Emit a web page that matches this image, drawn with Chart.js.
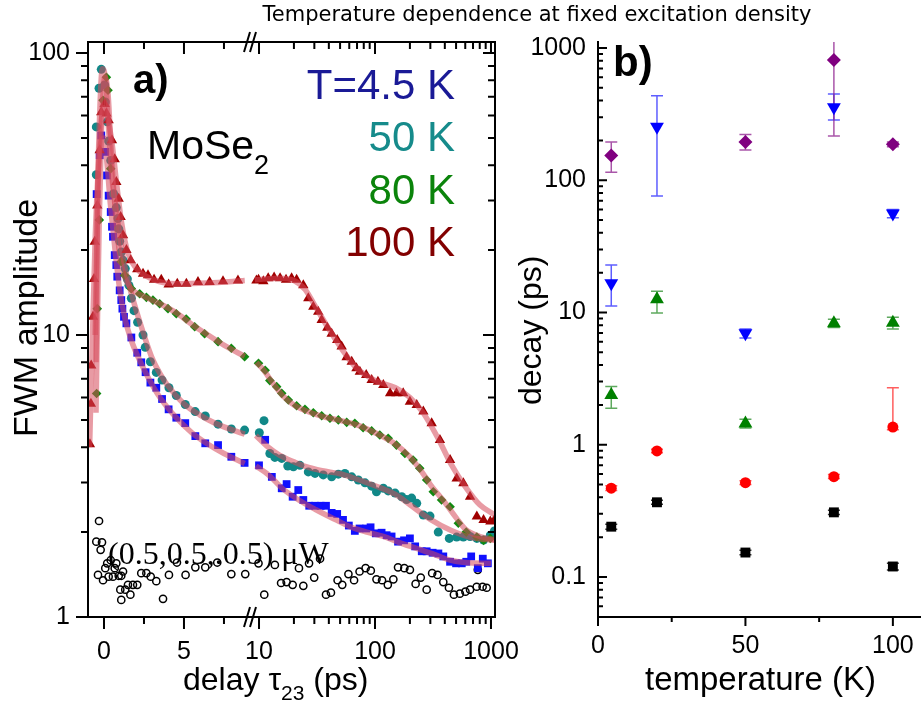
<!DOCTYPE html>
<html>
<head>
<meta charset="utf-8">
<script src="https://cdn.jsdelivr.net/npm/chart.js@4.4.1/dist/chart.umd.min.js"></script>
<style>
  html, body { margin:0; padding:0; background:#fff; }
  #page { position:relative; width:921px; height:706px; overflow:hidden; font-family:"Liberation Sans", Arial, sans-serif; color:#000; }
  .box { position:absolute; top:0; height:706px; }
  .lbl { position:absolute; line-height:1; white-space:nowrap; }
  .rot { transform-origin:0 0; transform:rotate(-90deg); }
</style>
</head>
<body>
<div id="page">
  <div class="box" style="left:0;width:530px"><canvas id="fwmChart"></canvas></div>
  <div class="box" style="left:520px;width:421px"><canvas id="decayChart"></canvas></div>

  <div class="lbl" style="left:537px;top:4px;transform:translateX(-50%);font-family:'DejaVu Sans';font-size:21px">Temperature dependence at fixed excitation density</div>
  <div class="lbl" style="left:133px;top:59px;font-size:40px;font-weight:bold">a)</div>
  <div class="lbl" style="left:147px;top:125px;font-size:41px">MoSe<span style="font-size:27px;position:relative;top:15px">2</span></div>
  <div class="lbl" style="right:466px;top:64px;font-size:42px;color:#1a1a96">T=4.5 K</div>
  <div class="lbl" style="right:466px;top:116px;font-size:42px;color:#168b8b">50 K</div>
  <div class="lbl" style="right:466px;top:169px;font-size:42px;color:#0b840b">80 K</div>
  <div class="lbl" style="right:466px;top:221px;font-size:42px;color:#820000">100 K</div>
  <div class="lbl" style="left:108px;top:537px;font-family:'Liberation Serif';font-size:32px">(0.5,0.5,.0.5) μW</div>
  <div class="lbl" style="left:183px;top:663px;font-size:32px">delay τ<span style="font-size:21px;position:relative;top:10px">23</span> (ps)</div>
  <div class="lbl rot" style="left:8px;top:437px;font-size:34px">FWM amplitude</div>

  <div class="lbl" style="left:613px;top:41px;font-size:42px;font-weight:bold">b)</div>
  <div class="lbl" style="left:645px;top:662px;font-size:33px">temperature (K)</div>
  <div class="lbl rot" style="left:514px;top:405px;font-size:32px">decay (ps)</div>
</div>

<script>
// ---- panel a: FWM amplitude vs delay (linear part up to the break, log part after) ----
const blueLin = [[-0.46,31.6],[-0.27,43.4],[-0.17,51],[0.08,44.6],[0.19,36.8],[0.29,31.2],[0.42,27.3],[0.5,24.2],[0.56,22.3],[0.67,19.2],[0.77,17.7],[0.83,16.1],[0.98,14.4],[1.08,13.3],[1.15,12.4],[1.25,11.6],[1.4,11],[1.71,9.8],[2.08,8.65],[2.33,8.0],[2.6,7.38],[2.9,6.78],[3.27,6.5],[3.63,5.93],[4.04,5.45],[4.52,5.09],[5.08,4.87],[5.71,4.38],[6.33,4.13],[7.13,4.07],[7.96,3.7],[8.79,3.52]];
const blueLog = [[10,3.45],[11.3,4.25],[12.9,3.14],[15.7,2.86],[17.3,2.96],[19.5,2.67],[21.8,2.82],[24.1,2.6],[27.1,2.48],[30.4,2.48],[34,2.48],[37.8,2.48],[42.3,2.34],[47.2,2.32],[53,2.21],[59.5,2.11],[67,2.02],[73.6,2.06],[84,2.06],[91.6,2.08],[101.6,1.98],[114,1.99],[126,1.95],[139,1.93],[158,1.85],[178,1.87],[200,1.9],[222,1.78],[253,1.71],[279,1.71],[314,1.69],[352,1.68],[388,1.64],[444,1.57],[500,1.55],[560,1.55],[612,1.57],[675,1.64],[770,1.49],[850,1.61],[940,1.55]];
const tealLin = [[-0.48,37],[-0.48,54.7],[-0.31,75],[-0.17,87.5],[0.04,77],[0.08,67],[0.2,57],[0.29,48.7],[0.42,41.6],[0.6,31.7],[0.77,28.3],[0.875,25.9],[0.92,23.8],[0.98,21.5],[1.08,19.7],[1.19,18.4],[1.33,17.2],[1.46,15.8],[1.56,15],[1.71,13.5],[1.875,12.2],[2.1,11.1],[2.44,10],[2.58,9.04],[2.9,8.04],[3.27,7.37],[3.63,6.92],[4.06,6.5],[4.52,6.1],[5.08,5.67],[5.7,5.35],[6.33,5.16],[7.13,4.83],[7.96,4.64],[8.79,4.6]];
const tealLog = [[10.06,4.5],[11.04,4.97],[12.4,3.8],[13.7,3.68],[15.7,3.65],[17.7,3.43],[19.8,3.41],[22.5,3.45],[26.6,3.27],[30.4,3.23],[35.8,3.19],[42.3,3.14],[48.3,3.21],[55,3.23],[63,3.14],[71.8,3.06],[82,2.99],[93.6,2.91],[103,2.78],[118,2.86],[130,2.8],[149,2.75],[170,2.67],[187,2.61],[207,2.64],[229,2.53],[261,2.3],[298,2.28],[351,2.0],[437,1.9],[506,1.92],[578,1.92],[660,1.93],[755,1.9],[863,1.875],[987,1.95],[1070,2.02]];
const greenLin = [[-0.46,6.2],[-0.42,12.4],[-0.29,25.6],[-0.06,68],[0.15,82],[0.25,73.8],[0.42,38.9],[1.08,18.2],[1.29,16.3],[1.71,14.6],[2.23,14],[2.65,13.6],[3.06,13.3],[3.48,12.9],[4.0,12.4],[4.52,11.9],[5.14,11.4],[5.67,10.7],[6.29,10.1],[7.13,9.47],[7.96,8.97],[8.79,8.37]];
const greenLog = [[9.9,7.94],[11.3,7.5],[12.4,6.89],[14.2,6.56],[15.7,6.21],[17.9,5.88],[21.1,5.61],[24.9,5.45],[29.4,5.3],[34.7,5.17],[40.9,5.07],[48.3,5.0],[57,4.9],[67,4.86],[79,4.69],[93.6,4.57],[110,4.42],[130,4.3],[153,4.07],[181,3.8],[213,3.6],[243,3.37],[279,3.06],[318,2.78],[375,2.6],[444,2.46],[523,2.15],[612,2.0],[755,1.92],[863,1.87],[987,1.9]];
const redLin = [[-0.88,4.1],[-0.82,5.7],[-0.8,7.8],[-0.69,11.6],[-0.625,15.8],[-0.58,21.4],[-0.42,28.8],[-0.27,45.2],[-0.17,61.7],[0.04,66],[0.15,61],[0.29,57.7],[0.5,49],[0.67,42],[0.77,34.9],[0.92,30.4],[1.04,26.2],[1.19,22.6],[1.4,20],[1.67,18.4],[2.08,17.1],[2.44,16.5],[2.75,16.3],[3.13,15.7],[3.58,15.7],[4.04,15.1],[4.58,15.2],[5.15,15.2],[5.875,15.4],[6.6,15.4],[7.44,15.5],[8.375,15.6]];
const redLog = [[9.5,15.6],[9.9,15.7],[10.9,15.5],[12,15.9],[13.5,16.0],[15.2,15.9],[17.1,15.7],[19.1,15.9],[21.1,15.7],[24.1,15.0],[26.6,13.5],[29.4,12.6],[32.4,12.1],[34.7,11.3],[38.8,10.6],[42.3,10.1],[47.2,9.6],[51.6,9.1],[56.9,8.34],[63,8.04],[69.2,7.62],[74,7.41],[84,7.21],[93.6,6.92],[106,6.83],[118,6.65],[135,6.21],[153,6.21],[175,6.21],[200,5.8],[229,5.65],[261,5.35],[308,4.86],[363,4.24],[444,3.6],[506,3.1],[578,2.98],[660,2.67],[755,2.27],[863,2.21],[987,2.18],[1070,2.21]];
const noiseLin = [[-0.48,1.85],[-0.375,1.41],[-0.31,2.19],[-0.21,1.73],[-0.125,1.84],[-0.06,1.35],[0.08,1.49],[0.2,1.55],[0.29,1.39],[0.42,1.59],[0.56,1.39],[0.67,1.49],[0.77,1.55],[0.92,1.4],[1.02,1.25],[1.08,1.4],[1.08,1.15],[1.19,1.45],[1.33,1.25],[1.5,1.3],[1.65,1.2],[1.81,1.3],[2.08,1.3],[2.33,1.43],[2.65,1.43],[2.92,1.39],[3.27,1.34],[3.69,1.16],[4.06,1.41],[4.56,1.56],[5.1,1.41],[5.71,1.5],[6.33,1.5],[7.08,1.56],[7.96,1.42],[8.83,1.42]];
const noiseLog = [[9.9,1.55],[11.1,1.2],[13.7,1.53],[15.5,1.32],[17.3,1.33],[19.5,1.3],[22.1,1.49],[24.1,1.29],[27,1.55],[29.9,1.38],[33.6,1.61],[37.8,1.2],[41.7,1.22],[47.6,1.35],[52.2,1.3],[59,1.42],[66,1.35],[73.6,1.45],[83,1.49],[92,1.46],[103,1.36],[115,1.35],[129,1.3],[144,1.36],[158,1.5],[179,1.49],[200,1.47],[224,1.31],[248,1.38],[279,1.25],[311,1.43],[346,1.41],[388,1.33],[434,1.27],[479,1.2],[539,1.21],[602,1.23],[660,1.25],[753,1.28],[770,1.47],[847,1.28],[918,1.27]];

// fitted curves
const blueFitLin = [[-0.55,10],[-0.4,30],[-0.2,48],[0,50],[0.2,40],[0.4,29],[0.6,22.5],[0.8,17.5],[1.0,14.3],[1.3,11.5],[1.7,9.6],[2.2,8.2],[2.8,7.0],[3.5,6.0],[4.5,5.1],[5.5,4.5],[6.5,4.1],[7.5,3.8],[8.8,3.5]];
const blueFitLog = [[9.4,3.43],[12,3.2],[16,2.85],[22,2.6],[31,2.4],[45,2.22],[61,2.09],[85,2.0],[118,1.93],[160,1.84],[229,1.75],[320,1.67],[444,1.59],[600,1.56],[1000,1.55]];
const tealFitLin = [[-0.5,8],[-0.4,30],[-0.25,65],[-0.1,88],[0.1,80],[0.3,52],[0.5,36],[0.8,27],[1.0,22],[1.3,17.5],[1.6,14.8],[2.0,12.3],[2.5,10],[3.0,8.3],[3.5,7.3],[4.0,6.6],[5.0,5.7],[6.0,5.2],[7.0,4.85],[8.8,4.45]];
const tealFitLog = [[9.4,4.4],[12,4.0],[15,3.75],[20,3.55],[25,3.42],[35,3.3],[50,3.22],[70,3.08],[100,2.92],[150,2.72],[200,2.5],[300,2.22],[450,2.03],[650,1.92],[1080,1.87]];
const greenFitLin = [[-0.5,5.3],[-0.4,12],[-0.3,25],[-0.15,55],[0.05,82],[0.25,72],[0.45,45],[0.7,28],[1.0,19],[1.3,16],[1.7,14.6],[2.5,13.7],[3.5,12.9],[4.5,12],[5.5,10.9],[6.5,10],[7.5,9.2],[8.8,8.4]];
const greenFitLog = [[9.5,8.0],[11,7.5],[13,6.8],[16,6.1],[20,5.65],[25,5.4],[35,5.15],[50,4.98],[70,4.8],[100,4.5],[150,4.1],[200,3.7],[250,3.3],[300,2.95],[400,2.55],[500,2.25],[600,2.05],[800,1.93],[1080,1.88]];
const redFitLin = [[-0.9,4.0],[-0.7,11],[-0.55,22],[-0.4,35],[-0.2,55],[0,64],[0.2,60],[0.5,48],[0.8,34],[1.1,25],[1.5,19.5],[2.0,17.3],[3.0,15.8],[4.5,15.2],[6.5,15.3],[8.8,15.6]];
const redFitLog = [[9.2,15.7],[15,15.9],[20,15.6],[25,14.5],[30,12.8],[40,10.5],[55,8.6],[70,7.6],[100,6.9],[150,6.5],[200,6.0],[260,5.3],[350,4.3],[450,3.5],[600,2.9],[800,2.5],[1080,2.3]];

// ---- panel b: decay times vs temperature ----
const tempK = [4.5, 20, 50, 80, 100];
const purpleT = [4.5, 50, 80, 100];
const purpleY = [154, 195, 811, 187];
const purpleLo = [115, 169, 216, 179];
const purpleHi = [195, 222, 1500, 195];
const blueY = [16.6, 254, 6.97, 357, 56];
const blueLo = [11.2, 76, 6.4, 286, 52];
const blueHi = [22.9, 436, 7.5, 449, 60];
const greenY = [2.38, 12.6, 1.45, 8.28, 8.37];
const greenLo = [1.89, 9.9, 1.34, 7.7, 7.5];
const greenHi = [2.75, 14.5, 1.56, 8.9, 9.2];
const redY = [0.469, 0.897, 0.516, 0.573, 1.36];
const redLo = [0.45, 0.87, 0.5, 0.555, 1.3];
const redHi = [0.49, 0.925, 0.535, 0.595, 2.7];
const blackY = [0.24, 0.367, 0.153, 0.308, 0.12];
const blackLo = [0.23, 0.355, 0.147, 0.297, 0.113];
const blackHi = [0.25, 0.38, 0.159, 0.319, 0.127];

// ticks
const yMajorA = [1, 10, 100];
const yMinorA = [2,3,4,5,6,7,8,9,20,30,40,50,60,70,80,90];
const xLinMajor = [0, 5];
const xLinMinor = [2.5, 7.5];
const xLogMajor = [10, 100, 1000];
const xLogMinor = [20,30,40,50,60,70,80,90,200,300,400,500,600,700,800,900];
const yMajorB = [0.1, 1, 10, 100, 1000];
const yMinorB = [0.06,0.07,0.08,0.09,0.2,0.3,0.4,0.5,0.6,0.7,0.8,0.9,2,3,4,5,6,7,8,9,20,30,40,50,60,70,80,90,200,300,400,500,600,700,800,900];
const xMajorB = [0, 50, 100];
const xMinorB = [25, 75];

const pts = arr => arr.map(p => ({x: p[0], y: p[1]}));
const zip = (xs, ys) => xs.map((x, i) => ({x: x, y: ys[i]}));
const tickFont = {family: 'Liberation Sans', size: 25};

// fixed axis sizes, no extra label padding, so the plot boxes sit where the picture has them
function fixSize(w, h) {
    return function (s) {
        if (w) s.width = w;
        if (h) s.height = h;
        s.paddingLeft = 0; s.paddingRight = 0; s.paddingTop = 0; s.paddingBottom = 0;
    };
}

// frame, tick marks and the axis break
const axisMarks = {
    id: 'axisMarks',
    afterDatasetsDraw(chart, args, o) {
        var ctx = chart.ctx, a = chart.chartArea;
        ctx.save();
        ctx.strokeStyle = '#000'; ctx.lineWidth = 2;
        ctx.beginPath();
        o.frame.forEach(function (s) {
            if (s === 'left')   { ctx.moveTo(a.left, a.top - 1);  ctx.lineTo(a.left, a.bottom + 1); }
            if (s === 'right')  { ctx.moveTo(a.right, a.top - 1); ctx.lineTo(a.right, a.bottom + 1); }
            if (s === 'top')    { ctx.moveTo(a.left - 1, a.top);  ctx.lineTo(a.right + 1, a.top); }
            if (s === 'bottom') { ctx.moveTo(a.left - 1, a.bottom); ctx.lineTo(a.right + 1, a.bottom); }
        });
        o.marks.forEach(function (m) {
            var sc = chart.scales[m.scale];
            [[m.major, m.long], [m.minor, m.short]].forEach(function (g) {
                g[0].forEach(function (v) {
                    var p = sc.getPixelForValue(v);
                    m.sides.forEach(function (sd) {
                        var e = sd[0], d = sd[1] * g[1];
                        if (e === 'bottom' || e === 'top') { ctx.moveTo(p, a[e]); ctx.lineTo(p, a[e] + d); }
                        else { ctx.moveTo(a[e], p); ctx.lineTo(a[e] + d, p); }
                    });
                });
            });
        });
        ctx.stroke();
        if (o.breakAt) {
            var bx = chart.scales[o.breakAt].right;
            ctx.beginPath();
            [a.top, a.bottom].forEach(function (y) {
                ctx.moveTo(bx - 7, y + 10); ctx.lineTo(bx - 1, y - 10);
                ctx.moveTo(bx - 1, y + 10); ctx.lineTo(bx + 5, y - 10);
            });
            ctx.stroke();
        }
        ctx.restore();
    }
};

// vertical error bars for panel b
const errorBars = {
    id: 'errorBars',
    beforeDatasetsDraw(chart) {
        var ctx = chart.ctx, a = chart.chartArea, xs = chart.scales.x, ys = chart.scales.y;
        ctx.save();
        ctx.beginPath(); ctx.rect(a.left, a.top, a.right - a.left, a.bottom - a.top); ctx.clip();
        chart.data.datasets.forEach(function (ds) {
            if (!ds.errLo) return;
            ctx.strokeStyle = ds.errColor; ctx.lineWidth = 1.5;
            ds.data.forEach(function (p, i) {
                var x = xs.getPixelForValue(p.x);
                var y1 = ys.getPixelForValue(ds.errLo[i]), y2 = ys.getPixelForValue(ds.errHi[i]);
                ctx.beginPath();
                ctx.moveTo(x, y1); ctx.lineTo(x, y2);
                ctx.moveTo(x - 6, y1); ctx.lineTo(x + 6, y1);
                ctx.moveTo(x - 6, y2); ctx.lineTo(x + 6, y2);
                ctx.stroke();
            });
        });
        ctx.restore();
    }
};

function dots(data, axis, style, color, r) {
    return {data: data, xAxisID: axis, showLine: false, order: 1, pointStyle: style,
        pointRadius: r, pointBackgroundColor: color, backgroundColor: color, pointBorderWidth: 0};
}
function fit(data, axis) {
    return {data: data, xAxisID: axis, showLine: true, order: 0, pointRadius: 0,
        borderColor: 'rgba(214,72,90,0.55)', borderWidth: 5.5, cubicInterpolationMode: 'monotone'};
}
var noiseStyle = {pointBorderWidth: 1.5, pointBorderColor: '#000', pointBackgroundColor: 'rgba(255,255,255,0)'};

new Chart(document.getElementById('fwmChart'), {
    type: 'scatter',
    data: { datasets: [
        dots(pts(redLin), 'x', 'triangle', '#a00000', 6),
        dots(pts(redLog), 'x2', 'triangle', '#a00000', 6),
        dots(pts(greenLin), 'x', 'rectRot', '#108a10', 4.8),
        dots(pts(greenLog), 'x2', 'rectRot', '#108a10', 4.8),
        dots(pts(tealLin), 'x', 'circle', '#118888', 4.5),
        dots(pts(tealLog), 'x2', 'circle', '#118888', 4.5),
        dots(pts(blueLin), 'x', 'rect', '#1010ff', 5.5),
        dots(pts(blueLog), 'x2', 'rect', '#1010ff', 5.5),
        Object.assign(dots(pts(noiseLin), 'x', 'circle', '#000', 3.6), noiseStyle),
        Object.assign(dots(pts(noiseLog), 'x2', 'circle', '#000', 3.6), noiseStyle),
        fit(pts(blueFitLin), 'x'), fit(pts(blueFitLog), 'x2'),
        fit(pts(tealFitLin), 'x'), fit(pts(tealFitLog), 'x2'),
        fit(pts(greenFitLin), 'x'), fit(pts(greenFitLog), 'x2'),
        fit(pts(redFitLin), 'x'), fit(pts(redFitLog), 'x2')
    ] },
    options: { responsive:true, maintainAspectRatio:false, animation:false, events:[],
        layout: {padding: {top:42, right:35, bottom:0, left:0}},
        plugins: { legend:{display:false}, tooltip:{enabled:false},
            axisMarks: { frame:['left','right','top','bottom'], breakAt:'x', marks:[
                {scale:'y', major:yMajorA, minor:yMinorA, long:12, short:7, sides:[['left',-1],['right',-1]]},
                {scale:'x', major:xLinMajor, minor:xLinMinor, long:12, short:7, sides:[['bottom',1],['top',1]]},
                {scale:'x2', major:xLogMajor, minor:xLogMinor, long:12, short:7, sides:[['bottom',1],['top',1]]}
            ] } },
        scales: {
            y: { type:'logarithmic', position:'left', min:1, max:109.4,
                 grid:{display:false, drawTicks:false}, border:{display:false},
                 afterBuildTicks: function (s) { s.ticks = yMajorA.map(function (v) { return {value:v}; }); },
                 afterFit: fixSize(88, 0),
                 ticks:{ color:'#000', font:tickFont, padding:18, autoSkip:false, callback: function (v) { return String(v); } } },
            x: { type:'linear', position:'bottom', stack:'xa', stackWeight:163, min:-1, max:9.19,
                 grid:{display:false, drawTicks:false}, border:{display:false},
                 afterBuildTicks: function (s) { s.ticks = xLinMajor.map(function (v) { return {value:v}; }); },
                 afterFit: fixSize(0, 89),
                 ticks:{ color:'#000', font:tickFont, padding:20, autoSkip:false, maxRotation:0 } },
            x2: { type:'logarithmic', position:'bottom', stack:'xa', stackWeight:244, min:8.53, max:1083,
                 grid:{display:false, drawTicks:false}, border:{display:false},
                 afterBuildTicks: function (s) { s.ticks = xLogMajor.map(function (v) { return {value:v}; }); },
                 afterFit: fixSize(0, 89),
                 ticks:{ color:'#000', font:tickFont, padding:20, autoSkip:false, maxRotation:0, callback: function (v) { return String(v); } } }
        } },
    plugins: [axisMarks]
});

function decaySet(xs, ys, lo, hi, style, color, errColor, r, rot) {
    return {data: zip(xs, ys), errLo: lo, errHi: hi, errColor: errColor, pointStyle: style,
        pointRadius: r, rotation: rot || 0, pointBackgroundColor: color, backgroundColor: color, pointBorderWidth: 0};
}

new Chart(document.getElementById('decayChart'), {
    type: 'scatter',
    data: { datasets: [
        decaySet(tempK, blackY, blackLo, blackHi, 'rect', '#000', 'rgba(0,0,0,0.8)', 7),
        decaySet(tempK, redY, redLo, redHi, 'circle', '#ff0000', 'rgba(255,40,40,0.75)', 5.5),
        decaySet(tempK, greenY, greenLo, greenHi, 'triangle', '#008000', 'rgba(40,140,40,0.75)', 8),
        decaySet(tempK, blueY, blueLo, blueHi, 'triangle', '#0000ff', 'rgba(40,40,255,0.75)', 8, 180),
        decaySet(purpleT, purpleY, purpleLo, purpleHi, 'rectRot', '#800080', 'rgba(140,30,140,0.75)', 7)
    ] },
    options: { responsive:true, maintainAspectRatio:false, animation:false, events:[],
        layout: {padding: {top:42, right:21, bottom:0, left:0}},
        plugins: { legend:{display:false}, tooltip:{enabled:false},
            axisMarks: { frame:['left','bottom'], marks:[
                {scale:'y', major:yMajorB, minor:yMinorB, long:9, short:5, sides:[['left',1]]},
                {scale:'x', major:xMajorB, minor:xMinorB, long:9, short:5, sides:[['bottom',1]]}
            ] } },
        scales: {
            y: { type:'logarithmic', position:'left', min:0.0498, max:1110,
                 grid:{display:false, drawTicks:false}, border:{display:false},
                 afterBuildTicks: function (s) { s.ticks = yMajorB.map(function (v) { return {value:v}; }); },
                 afterFit: fixSize(78, 0),
                 ticks:{ color:'#000', font:tickFont, padding:12, autoSkip:false, callback: function (v) { return String(v); } } },
            x: { type:'linear', position:'bottom', min:0, max:109.2,
                 grid:{display:false, drawTicks:false}, border:{display:false},
                 afterBuildTicks: function (s) { s.ticks = xMajorB.map(function (v) { return {value:v}; }); },
                 afterFit: fixSize(0, 89),
                 ticks:{ color:'#000', font:tickFont, padding:14, autoSkip:false, maxRotation:0 } }
        } },
    plugins: [axisMarks, errorBars]
});
</script>
</body>
</html>
